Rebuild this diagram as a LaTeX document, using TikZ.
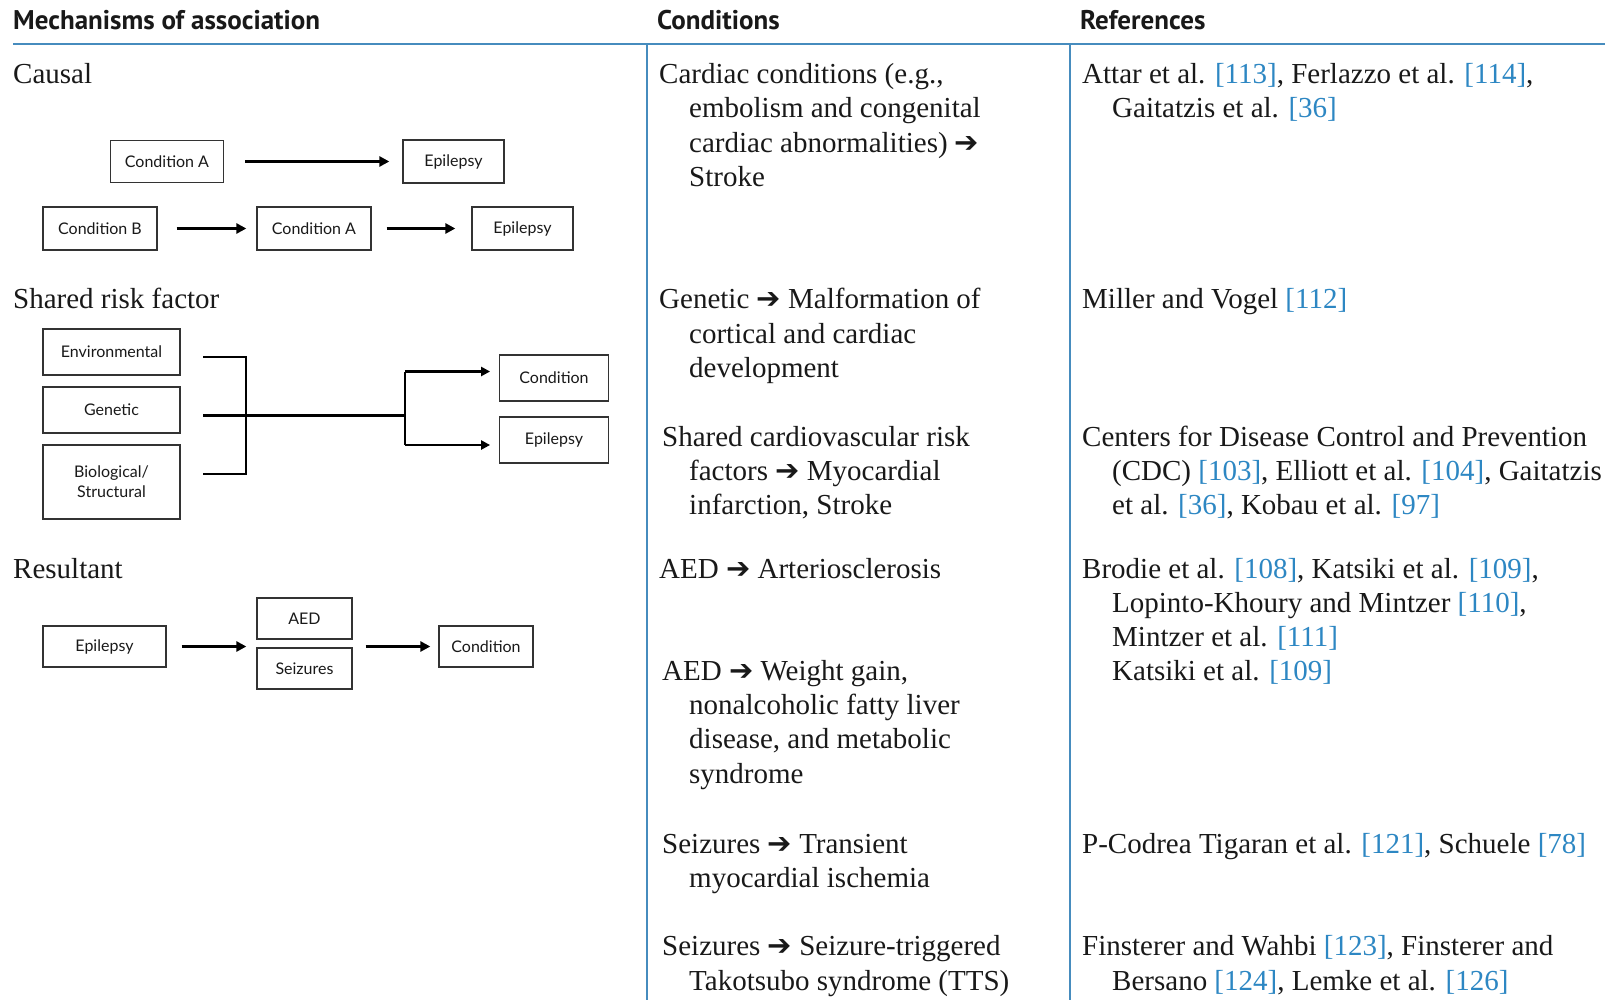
\documentclass[tikz,border=0pt]{standalone}
\usepackage{fontspec}
\setmainfont{Liberation Serif}
\newfontfamily\hdrfont{PT Sans}
\newfontfamily\boxfont{Lato}
\newfontfamily\symfont{DejaVu Sans}
\usetikzlibrary{arrows.meta}
\definecolor{refblue}{RGB}{45,135,195}
\definecolor{rulecol}{RGB}{70,140,190}
\definecolor{ink}{RGB}{25,25,25}
\newcommand\rf[1]{{\color{refblue}[#1]}}
\newcommand\harr{{\symfont ➔}}
\newcommand\tblock[5]{%
  \foreach \lin [count=\i] in {#5}{%
    \pgfmathsetmacro\xx{\i==1 ? #2 : #3}%
    \pgfmathsetmacro\yy{#4+(\i-1)*34.2}%
    \node[body] (#1-\i) at (\xx,\yy) {\lin};
  }}
\tikzset{
  body/.style={font=\fontsize{29}{34}\selectfont, text=ink, inner sep=0pt, anchor=base west},
  hdr/.style={font=\hdrfont\bfseries\fontsize{27}{30}\selectfont, text=ink, inner sep=0pt, anchor=base west},
  bx/.style={draw=black!80, line width=1.3pt, font=\boxfont\fontsize{16}{19}\selectfont, text=ink, inner sep=0pt, align=center},
  arr/.style={line width=2.8pt, -{Triangle[length=10pt,width=10pt]}},
  brk/.style={line width=2.4pt, line join=miter},
  arr2/.style={line width=2.4pt, -{Triangle[length=9pt,width=9pt]}}
}
\begin{document}
\begin{tikzpicture}[x=1pt,y=-1pt]
\useasboundingbox (0,0) rectangle (1605,1000);
\fill[white] (0,0) rectangle (1605,1000);

% header
\node[hdr] (h1) at (13,30) {Mechanisms of association};
\node[hdr] (h2) at (657,30) {Conditions};
\node[hdr] (h3) at (1080,30) {References};
\draw[rulecol, line width=1.8pt] (13,44) -- (1605,44);
\draw[rulecol, line width=1.3pt] (647,44) -- (647,1000);
\draw[rulecol, line width=1.3pt] (1070,44) -- (1070,1000);

% left labels
\node[body] (l1) at (13,83.7) {Causal};
\node[body] (l2) at (13,308.9) {Shared risk factor};
\node[body] (l3) at (13,578) {Resultant};

% causal diagram
\node[bx, minimum width=113.5pt, minimum height=42pt] (ca1) at (167,161.5) {Condition A};
\node[bx, minimum width=101pt, minimum height=43pt] (ep1) at (453.5,161.5) {Epilepsy};
\draw[arr, shorten <=21pt, shorten >=13pt] (ca1.east) -- (ep1.west);
\node[bx, minimum width=114pt, minimum height=43pt] (cb2) at (100,228.5) {Condition B};
\node[bx, minimum width=114pt, minimum height=43pt] (ca2) at (314,228.5) {Condition A};
\node[bx, minimum width=101pt, minimum height=43pt] (ep2) at (522.5,228.5) {Epilepsy};
\draw[arr, shorten <=19pt, shorten >=10pt] (cb2.east) -- (ca2.west);
\draw[arr, shorten <=15pt, shorten >=16pt] (ca2.east) -- (ep2.west);

% shared risk factor diagram
\node[bx, minimum width=137pt, minimum height=46pt] (env) at (111.5,352) {Environmental};
\node[bx, minimum width=137pt, minimum height=46pt] (gen) at (111.5,410) {Genetic};
\node[bx, minimum width=137pt, minimum height=74pt] (bio) at (111.5,482) {Biological/\\[1pt]Structural};
\node[bx, minimum width=109.5pt, minimum height=46pt] (cnd) at (554,378) {Condition};
\node[bx, minimum width=109.5pt, minimum height=46pt] (ep3) at (554,440) {Epilepsy};
\coordinate (s1) at (203,357);
\coordinate (s2) at (203,415.5);
\coordinate (s3) at (203,474);
\coordinate (k1) at (246,357);
\coordinate (k3) at (246,474);
\coordinate (j) at (405,415.5);
\coordinate (ju) at (405,371.5);
\coordinate (jd) at (405,445);
\draw[brk] (s1) -- (k1) -- (k3) -- (s3);
\draw[brk, line width=3.2pt] (s2) -- (j);
\draw[brk] (ju) -- (jd);
\draw[arr2, shorten >=8.5pt] (ju) -- (ju -| cnd.west);
\draw[arr2, shorten >=8.5pt] (jd) -- (jd -| ep3.west);

% resultant diagram
\node[bx, minimum width=123pt, minimum height=41pt] (ep4) at (104.5,646.5) {Epilepsy};
\node[bx, minimum width=95pt, minimum height=41pt] (aed) at (304.5,618.5) {AED};
\node[bx, minimum width=95pt, minimum height=41pt] (sz) at (304.5,668.5) {Seizures};
\node[bx, minimum width=94pt, minimum height=41pt] (cn4) at (486,646.5) {Condition};
\draw[arr, shorten <=15pt, shorten >=10pt] (ep4.east) -- (ep4.east -| aed.west);
\draw[arr, shorten <=13pt, shorten >=8pt] (ep4.east -| aed.east) -- (cn4.west);

% conditions column
\tblock{c1}{659}{689}{83.7}{{Cardiac conditions (e.g.,},{embolism and congenital},{cardiac abnormalities) \harr},{Stroke}}
\tblock{c2}{659}{689}{308.9}{{Genetic \harr\ Malformation of},{cortical and cardiac},{development}}
\tblock{c3}{662}{689}{446}{{Shared cardiovascular risk},{factors \harr\ Myocardial},{infarction, Stroke}}
\tblock{c4}{659}{689}{578}{{AED \harr\ Arteriosclerosis}}
\tblock{c5}{662}{689}{680.4}{{AED \harr\ Weight gain,},{nonalcoholic fatty liver},{disease, and metabolic},{syndrome}}
\tblock{c6}{662}{689}{853.4}{{Seizures \harr\ Transient},{myocardial ischemia}}
\tblock{c7}{662}{689}{955.8}{{Seizures \harr\ Seizure-triggered},{Takotsubo syndrome (TTS)}}

% references column
\tblock{r1}{1082}{1112}{83.7}{{Attar et al. \rf{113}, Ferlazzo et al. \rf{114},},{Gaitatzis et al. \rf{36}}}
\tblock{r2}{1082}{1112}{308.9}{{Miller and Vogel \rf{112}}}
\tblock{r3}{1082}{1112}{446}{{Centers for Disease Control and Prevention},{(CDC) \rf{103}, Elliott et al. \rf{104}, Gaitatzis},{et al. \rf{36}, Kobau et al. \rf{97}}}
\tblock{r4}{1082}{1112}{578}{{Brodie et al. \rf{108}, Katsiki et al. \rf{109},},{Lopinto-Khoury and Mintzer \rf{110},},{Mintzer et al. \rf{111}},{Katsiki et al. \rf{109}}}
\tblock{r5}{1082}{1112}{853.4}{{P-Codrea Tigaran et al. \rf{121}, Schuele \rf{78}}}
\tblock{r6}{1082}{1112}{955.8}{{Finsterer and Wahbi \rf{123}, Finsterer and},{Bersano \rf{124}, Lemke et al. \rf{126}}}
\end{tikzpicture}
\end{document}
